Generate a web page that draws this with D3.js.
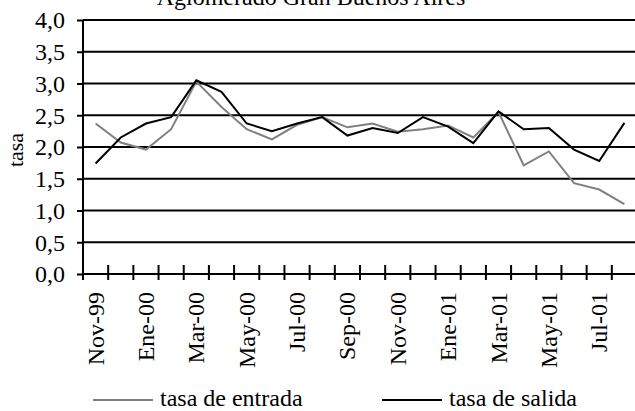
<!DOCTYPE html>
<html>
<head>
<meta charset="utf-8">
<script src="https://cdn.jsdelivr.net/npm/d3@7"></script>
<style>
  body { margin: 0; background: #fff; }
  svg { display: block; }
  svg text { font-family: "Liberation Serif", "Times New Roman", serif; }
</style>
</head>
<body>
<div id="chart"></div>
<script>
// meses (Nov-99 .. Ago-01)
const months = ["Nov-99", "Dic-99", "Ene-00", "Feb-00", "Mar-00", "Abr-00", "May-00", "Jun-00",
    "Jul-00", "Ago-00", "Sep-00", "Oct-00", "Nov-00", "Dic-00", "Ene-01", "Feb-01",
    "Mar-01", "Abr-01", "May-01", "Jun-01", "Jul-01", "Ago-01"];
const tasaEntrada = [2.37, 2.07, 1.96, 2.28, 3.03, 2.63, 2.28, 2.12, 2.35, 2.47, 2.31,
    2.37, 2.24, 2.28, 2.34, 2.15, 2.55, 1.71, 1.93, 1.43, 1.33, 1.10];
const tasaSalida = [1.74, 2.15, 2.37, 2.47, 3.05, 2.87, 2.37, 2.25, 2.37, 2.47, 2.18,
    2.30, 2.22, 2.47, 2.32, 2.06, 2.56, 2.28, 2.30, 1.96, 1.78, 2.38];
const yTicks = [0, 0.5, 1, 1.5, 2, 2.5, 3, 3.5, 4];

function chart() {
    const width = 635,
        height = 411;
    const font = "Liberation Serif";

    const svg = d3.select("#chart").append("svg")
        .attr("width", width)
        .attr("height", height);

    const x = d3.scaleBand().domain(months).range([83, 637]);
    const y = d3.scaleLinear().domain([0, 4]).range([274, 20]);

    // titulo (cortado arriba, como en el original)
    svg.append("text")
        .attr("x", 311)
        .attr("y", 5)
        .attr("text-anchor", "middle")
        .attr("font-family", font)
        .attr("font-size", 24)
        .text("Aglomerado Gran Buenos Aires");

    // grilla horizontal
    svg.append("g")
        .selectAll("line")
        .data(yTicks.filter(d => d > 0))
        .join("line")
        .attr("x1", 83)
        .attr("x2", width)
        .attr("y1", d => y(d))
        .attr("y2", d => y(d))
        .attr("stroke", "#000")
        .attr("stroke-width", 2);

    // eje y
    const yAxis = svg.append("g")
        .attr("transform", "translate(83,0)")
        .call(d3.axisLeft(y).tickValues(yTicks).tickSize(6)
            .tickFormat(d => d3.format(".1f")(d).replace(".", ",")));
    yAxis.attr("font-family", font).attr("font-size", 24);
    yAxis.select(".domain").attr("stroke-width", 2).attr("d", "M0,20V280");
    yAxis.selectAll(".tick line").attr("stroke-width", 2);
    yAxis.selectAll(".tick text")
        .attr("fill", "#000")
        .attr("x", -18)
        .attr("dy", "0.33em");

    // eje x: marcas en los limites de cada mes
    const bounds = months.map(m => x(m)).slice(1);
    svg.append("line")
        .attr("x1", 83).attr("x2", width)
        .attr("y1", y(0)).attr("y2", y(0))
        .attr("stroke", "#000").attr("stroke-width", 2);
    svg.append("g")
        .selectAll("line")
        .data(bounds)
        .join("line")
        .attr("x1", d => d).attr("x2", d => d)
        .attr("y1", 265).attr("y2", 280)
        .attr("stroke", "#000").attr("stroke-width", 2);

    // etiquetas x (cada dos meses)
    svg.append("g")
        .attr("font-family", font)
        .attr("font-size", 24)
        .selectAll("text")
        .data(months.filter((d, i) => i % 2 === 0))
        .join("text")
        .attr("transform", d => `translate(${x(d) + x.bandwidth() / 2 + 8},292) rotate(-90)`)
        .attr("text-anchor", "end")
        .text(d => d);

    // titulo eje y
    svg.append("text")
        .attr("transform", "translate(23,150) rotate(-90)")
        .attr("text-anchor", "middle")
        .attr("font-family", font)
        .attr("font-size", 22)
        .text("tasa");

    const line = d3.line()
        .x((d, i) => x(months[i]) + x.bandwidth() / 2)
        .y(d => y(d));

    svg.append("path")
        .datum(tasaEntrada)
        .attr("fill", "none")
        .attr("stroke", "#808080")
        .attr("stroke-width", 2)
        .attr("d", line);

    svg.append("path")
        .datum(tasaSalida)
        .attr("fill", "none")
        .attr("stroke", "#000")
        .attr("stroke-width", 2)
        .attr("d", line);

    // leyenda
    const legend = [
        {name: "tasa de entrada", color: "#808080", x: 93},
        {name: "tasa de salida", color: "#000", x: 382}
    ];
    const lg = svg.append("g").selectAll("g").data(legend).join("g")
        .attr("transform", d => `translate(${d.x},400)`);
    lg.append("line")
        .attr("x1", 0).attr("x2", 60)
        .attr("stroke", d => d.color)
        .attr("stroke-width", 2);
    lg.append("text")
        .attr("x", 67)
        .attr("y", 6)
        .attr("font-family", font)
        .attr("font-size", 24)
        .text(d => d.name);
}

window.onload = function() {
    chart();
};
</script>
</body>
</html>
